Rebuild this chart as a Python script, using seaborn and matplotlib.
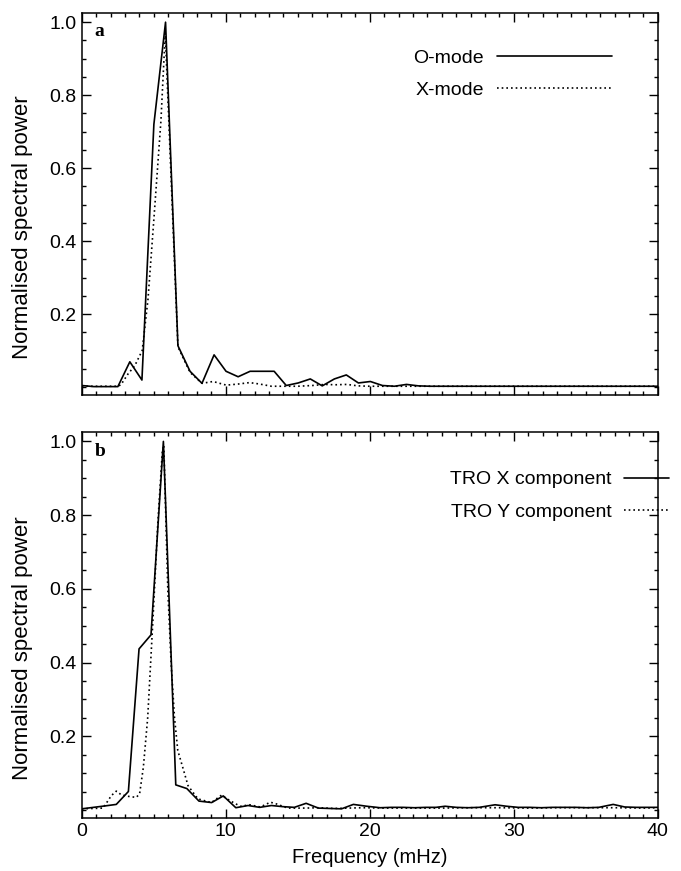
import pandas as pd
import matplotlib
matplotlib.use('Agg')
import matplotlib.pyplot as plt
from matplotlib.ticker import MultipleLocator, FormatStrFormatter
import seaborn as sns

# Panel a: ionospheric Doppler (O / X mode)
freq_o = [0.0, 0.84, 1.67, 2.51, 3.34, 4.18, 5.01, 5.82, 6.68, 7.52, 8.35, 9.19,
          10.02, 10.86, 11.69, 12.53, 13.36, 14.2, 15.03, 15.87, 16.7, 17.54, 18.37,
          19.21, 20.04, 20.88, 21.71, 22.55, 23.38, 24.22, 25.05, 25.89, 26.72, 27.56,
          28.39, 29.23, 30.06, 30.9, 31.73, 32.57, 33.4, 34.24, 35.07, 35.91, 36.74,
          37.58, 38.41, 39.25, 40.0]
o_mode = [0.004, 0.001, 0.001, 0.001, 0.069, 0.019, 0.72, 1.0, 0.113, 0.043, 0.01, 0.088,
          0.043, 0.028, 0.043, 0.043, 0.043, 0.004, 0.011, 0.022, 0.003, 0.022, 0.033,
          0.011, 0.015, 0.004, 0.002, 0.007, 0.003, 0.002, 0.002, 0.002, 0.002, 0.002,
          0.002, 0.002, 0.002, 0.002, 0.002, 0.002, 0.002, 0.002, 0.002, 0.002, 0.002,
          0.002, 0.002, 0.002, 0.002]

freq_x = [0.0, 0.84, 1.67, 2.51, 2.72, 3.22, 3.68, 4.2, 4.6, 5.01, 5.5, 5.8, 6.68, 7.52,
          8.35, 9.12, 10.04, 10.85, 11.66, 12.36, 13.17, 14.0, 15.0, 16.0, 16.9, 17.6,
          18.4, 19.2, 20.0, 21.0, 22.0, 24.0, 26.0, 28.0, 30.0, 32.0, 34.0, 36.0, 38.0, 40.0]
x_mode = [0.002, 0.002, 0.002, 0.002, 0.006, 0.036, 0.058, 0.1, 0.24, 0.46, 0.73, 0.97,
          0.11, 0.04, 0.01, 0.015, 0.005, 0.008, 0.012, 0.008, 0.002, 0.002, 0.002, 0.004,
          0.007, 0.006, 0.007, 0.003, 0.002, 0.002, 0.002, 0.002, 0.002, 0.002, 0.002,
          0.002, 0.002, 0.002, 0.002, 0.002]

# Panel b: magnetometer (TRO X / Y components)
freq_bx = [0.0, 0.82, 1.64, 2.4, 3.24, 3.98, 4.81, 5.67, 6.53, 7.3, 8.14, 9.02, 9.83,
           10.7, 11.55, 12.36, 13.17, 13.94, 14.76, 15.58, 16.43, 17.22, 18.04, 18.86,
           19.79, 20.72, 21.5, 22.3, 23.1, 23.9, 24.6, 25.23, 26.0, 26.8, 27.6, 28.7,
           29.5, 30.3, 31.1, 31.9, 32.7, 33.5, 34.3, 35.1, 35.9, 36.9, 37.7, 38.5, 39.3, 40.0]
tro_x = [0.003, 0.007, 0.011, 0.015, 0.05, 0.437, 0.475, 1.0, 0.068, 0.058, 0.024, 0.02,
         0.038, 0.006, 0.012, 0.007, 0.012, 0.009, 0.007, 0.018, 0.005, 0.004, 0.003,
         0.015, 0.01, 0.006, 0.007, 0.007, 0.006, 0.007, 0.007, 0.01, 0.007, 0.006, 0.007,
         0.014, 0.01, 0.007, 0.007, 0.006, 0.007, 0.007, 0.007, 0.006, 0.007, 0.015,
         0.008, 0.007, 0.007, 0.007]

freq_by = [0.0, 0.82, 1.48, 2.06, 2.4, 2.75, 3.21, 3.79, 4.02, 4.28, 4.58, 4.93, 5.28,
           5.6, 5.7, 5.98, 6.21, 6.44, 6.67, 7.01, 7.38, 7.72, 8.07, 9.0, 9.7, 10.3,
           11.0, 11.67, 12.4, 13.1, 13.54, 14.3, 15.5, 16.5, 17.5, 18.5, 19.5, 21.0,
           23.0, 25.0, 27.0, 29.0, 31.0, 33.0, 35.0, 37.0, 39.0, 40.0]
tro_y = [0.003, 0.004, 0.005, 0.039, 0.051, 0.041, 0.037, 0.034, 0.044, 0.116, 0.25,
         0.505, 0.776, 0.975, 0.99, 0.595, 0.396, 0.251, 0.161, 0.116, 0.066, 0.048,
         0.03, 0.02, 0.04, 0.025, 0.01, 0.014, 0.008, 0.021, 0.016, 0.005, 0.005, 0.006,
         0.004, 0.005, 0.006, 0.005, 0.005, 0.005, 0.006, 0.006, 0.005, 0.006, 0.006,
         0.006, 0.005, 0.006]

panels = [
    ('a', [('O-mode', freq_o, o_mode), ('X-mode', freq_x, x_mode)]),
    ('b', [('TRO X component', freq_bx, tro_x), ('TRO Y component', freq_by, tro_y)]),
]

sns.set_style('ticks')
plt.rcParams.update({
    'font.family': ['Liberation Sans', 'DejaVu Sans'],
    'text.color': 'black',
    'axes.labelcolor': 'black',
    'xtick.color': 'black',
    'ytick.color': 'black',
})
fontsize = 14

fig = plt.figure(figsize=(6.81, 8.71), dpi=100)
ax_a = fig.add_axes([0.120, 0.5465, 0.846, 0.4385])
ax_b = fig.add_axes([0.120, 0.0608, 0.846, 0.4430])

legend_pos = {'a': (0.576, 0.905), 'b': (0.639, 0.900)}
handle_len = {'a': 5.9, 'b': 2.3}
letter_y = {'a': 0.975, 'b': 0.972}

for ax, (letter, series) in zip([ax_a, ax_b], panels):
    frames = []
    for name, f, p in series:
        frames.append(pd.DataFrame({'freq': f, 'power': p, 'series': name}))
    df = pd.concat(frames, ignore_index=True)
    names = [s[0] for s in series]
    sns.lineplot(data=df, x='freq', y='power', style='series', style_order=names,
                 dashes={names[0]: '', names[1]: (1, 1.8)}, color='black',
                 linewidth=1.2, estimator=None, sort=False, ax=ax)

    ax.set_xlim(0, 40)
    ax.set_ylim(-0.022, 1.025)
    ax.set_yticks([0.2, 0.4, 0.6, 0.8, 1.0])
    ax.yaxis.set_major_formatter(FormatStrFormatter('%.1f'))
    ax.yaxis.set_minor_locator(MultipleLocator(0.05))
    ax.xaxis.set_major_locator(MultipleLocator(10))
    ax.xaxis.set_minor_locator(MultipleLocator(1))
    ax.tick_params(which='both', direction='in', top=True, right=True,
                   labelsize=fontsize, width=1.0, color='black', labelcolor='black')
    ax.tick_params(which='major', length=6.5)
    ax.tick_params(which='minor', length=3)
    for sp in ax.spines.values():
        sp.set_linewidth(1.1)
        sp.set_color('black')
    ax.set_ylabel('Normalised spectral power', fontsize=16)
    ax.yaxis.set_label_coords(-0.085, 0.44)

    ax.text(0.022, letter_y[letter], letter, transform=ax.transAxes, ha='left',
            va='top', fontsize=fontsize, fontweight='bold', family='Liberation Serif')

    ax.legend(title=None, loc='upper left', bbox_to_anchor=legend_pos[letter],
              frameon=False, markerfirst=False, fontsize=fontsize,
              handlelength=handle_len[letter], handletextpad=0.65,
              labelspacing=0.75, borderpad=0, borderaxespad=0)

ax_a.set_xlabel('')
ax_a.tick_params(labelbottom=False)
ax_b.set_xlabel('Frequency (mHz)', fontsize=14.5, labelpad=6)

fig.savefig('out.png', dpi=100)
